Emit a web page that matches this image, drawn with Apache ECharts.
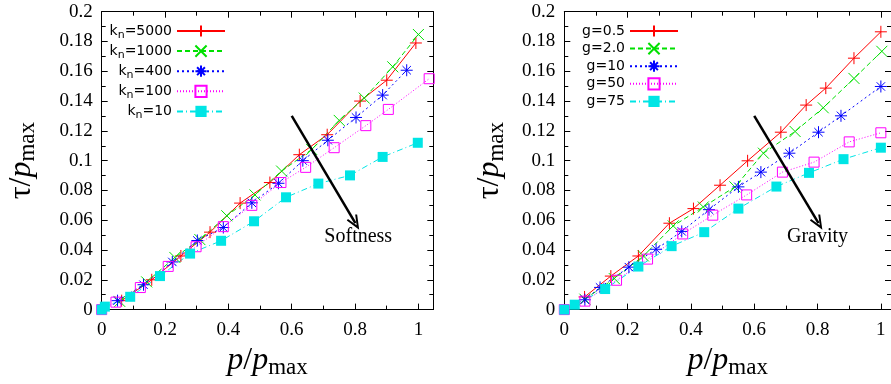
<!DOCTYPE html>
<html>
<head>
<meta charset="utf-8">
<script src="https://cdn.jsdelivr.net/npm/echarts@6/dist/echarts.min.js"></script>
<style>
html,body{margin:0;padding:0;background:#fff;}
#c{width:891px;height:384px;}
</style>
</head>
<body>
<div id="c"></div>
<script>
// ---------- data ----------
const softNames = ['kn=5000', 'kn=1000', 'kn=400', 'kn=100', 'kn=10'];
const kn5000 = [[0.063,0.006],[0.158,0.020],[0.25,0.036],[0.342,0.052],[0.437,0.0715],[0.531,0.0853],[0.624,0.104],[0.712,0.1174],[0.816,0.140],[0.90,0.154],[0.992,0.179]];
const kn1000 = [[0.057,0.0055],[0.142,0.0186],[0.231,0.035],[0.31,0.047],[0.395,0.063],[0.484,0.077],[0.568,0.093],[0.663,0.1075],[0.75,0.127],[0.829,0.142],[0.919,0.163],[1.0,0.1847]];
const kn400 = [[0.05,0.006],[0.132,0.0167],[0.223,0.032],[0.302,0.0464],[0.384,0.0551],[0.474,0.0717],[0.558,0.0848],[0.635,0.10],[0.714,0.1137],[0.803,0.129],[0.887,0.144],[0.963,0.1607]];
const kn100 = [[0,0],[0.045,0.005],[0.122,0.0148],[0.21,0.029],[0.298,0.0422],[0.384,0.0557],[0.474,0.07],[0.566,0.0853],[0.644,0.0955],[0.734,0.1087],[0.834,0.1235],[0.905,0.1344],[1.034,0.155]];
const kn10 = [[0,0],[0.01,0.002],[0.09,0.0086],[0.184,0.0225],[0.279,0.0376],[0.377,0.0462],[0.481,0.0593],[0.582,0.0754],[0.684,0.0846],[0.784,0.0901],[0.887,0.1025],[0.998,0.112]];

const gravNames = ['g=0.5', 'g=2.0', 'g=10', 'g=50', 'g=75'];
const g05 = [[0.064,0.0085],[0.147,0.0225],[0.234,0.036],[0.332,0.058],[0.408,0.0678],[0.492,0.0835],[0.579,0.0999],[0.684,0.1191],[0.764,0.1373],[0.826,0.1487],[0.915,0.1688],[1.0,0.1865]];
const g2 = [[0.065,0.007],[0.158,0.0208],[0.25,0.036],[0.344,0.0562],[0.439,0.0689],[0.539,0.0824],[0.629,0.105],[0.729,0.1196],[0.818,0.1355],[0.915,0.1552],[1.003,0.1734]];
const g10 = [[0.065,0.0066],[0.113,0.0149],[0.204,0.0285],[0.29,0.0405],[0.371,0.0525],[0.457,0.0671],[0.55,0.0824],[0.621,0.0923],[0.711,0.105],[0.803,0.1191],[0.874,0.1301],[1.0,0.1498]];
const g50 = [[0,0],[0.065,0.0057],[0.165,0.0197],[0.263,0.0339],[0.374,0.0508],[0.469,0.0634],[0.576,0.077],[0.689,0.0923],[0.789,0.099],[0.9,0.1126],[1.0,0.1187]];
const g75 = [[0,0],[0.033,0.0033],[0.129,0.0138],[0.234,0.0289],[0.339,0.0426],[0.442,0.052],[0.55,0.0678],[0.67,0.0826],[0.773,0.0918],[0.882,0.101],[1.0,0.1087]];

// axis ranges / ticks
const xMin = 0, xMaxLeft = 1.047, xMaxRight = 1.032, xInterval = 0.2;
const yMin = 0, yMax = 0.2, yInterval = 0.02;

// annotations (data coordinates)
const arrowLeft = [[0.6, 0.130], [0.801, 0.058]];
const arrowRight = [[0.6, 0.130], [0.803, 0.058]];
const textLeft = {text: 'Softness', at: [0.81, 0.049]};
const textRight = {text: 'Gravity', at: [0.80, 0.049]};

// ---------- styles ----------
const colors = ['#ff0000', '#00e000', '#0000ff', '#ff00ff', '#00e5e5'];
const dashes = ['solid', [5, 3], [2, 3], [1, 2], [6, 3, 1, 3]];
const plusP = 'path://M0 6L12 6M6 0L6 12';
const crossP = 'path://M0 0L12 12M12 0L0 12';
const starP = 'path://M0 6L12 6M6 0L6 12M1.8 1.8L10.2 10.2M10.2 1.8L1.8 10.2';
const arrowHead = 'path://M0 14L6 0L12 14L10.2 14.8L6 5L1.8 14.8Z';

function mkSeries(name, data, i, gi) {
  const c = colors[i];
  const s = {
    name: name, type: 'line', data: data,
    xAxisIndex: gi * 2, yAxisIndex: gi * 2,
    lineStyle: {color: c, width: 1, type: dashes[i]},
    showAllSymbol: true, animation: false, silent: true,
    emphasis: {disabled: true}
  };
  if (i === 0) { s.symbol = plusP; s.symbolSize = 12; s.itemStyle = {color: c, borderColor: c, borderWidth: 1}; }
  if (i === 1) { s.symbol = crossP; s.symbolSize = 11; s.itemStyle = {color: c, borderColor: c, borderWidth: 1}; }
  if (i === 2) { s.symbol = starP; s.symbolSize = 12; s.itemStyle = {color: c, borderColor: c, borderWidth: 1}; }
  if (i === 3) { s.symbol = 'rect'; s.symbolSize = 10; s.itemStyle = {color: 'rgba(0,0,0,0)', borderColor: c, borderWidth: 1}; }
  if (i === 4) { s.symbol = 'rect'; s.symbolSize = 10; s.itemStyle = {color: c, borderWidth: 0}; }
  return s;
}

function annotate(s, arrow, txt) {
  s.markLine = {
    silent: true, animation: false, symbol: ['none', arrowHead], symbolSize: [12, 15],
    lineStyle: {color: '#000', width: 2.5, type: 'solid'},
    label: {show: false}, emphasis: {disabled: true},
    data: [[{coord: arrow[0]}, {coord: arrow[1]}]]
  };
  s.markPoint = {
    silent: true, animation: false, symbol: 'circle', symbolSize: 1,
    itemStyle: {color: 'rgba(0,0,0,0)'},
    label: {show: true, position: 'inside', formatter: txt.text, color: '#000',
            fontFamily: 'Liberation Serif', fontSize: 20},
    data: [{coord: txt.at}]
  };
  return s;
}

const leftData = [kn5000, kn1000, kn400, kn100, kn10];
const rightData = [g05, g2, g10, g50, g75];
const series = [];
leftData.forEach((d, i) => series.push(mkSeries(softNames[i], d, i, 0)));
rightData.forEach((d, i) => series.push(mkSeries(gravNames[i], d, i, 1)));
annotate(series[0], arrowLeft, textLeft);
annotate(series[5], arrowRight, textRight);

const tickFont = {fontFamily: 'Liberation Serif', fontSize: 19, color: '#000'};
const nameStyle = {
  fontFamily: 'Liberation Serif', fontSize: 32, color: '#000',
  rich: {
    i: {fontFamily: 'Liberation Serif', fontStyle: 'italic', fontSize: 32, color: '#000'},
    t: {fontFamily: 'Liberation Serif', fontSize: 32, color: '#000'},
    s: {fontFamily: 'Liberation Serif', fontSize: 23, color: '#000', padding: [14, 0, 0, 0]}
  }
};

function xAx(grid, max, primary) {
  return {
    type: 'value', gridIndex: grid, min: xMin, max: max, interval: xInterval,
    position: primary ? 'bottom' : 'top',
    axisLine: {show: true, onZero: false, lineStyle: {color: '#000', width: 1}},
    axisTick: {show: true, inside: true, length: 6, lineStyle: {color: '#000'}},
    minorTick: {show: true, splitNumber: 2, length: 4, lineStyle: {color: '#000'}},
    splitLine: {show: false},
    axisLabel: {show: primary, margin: 11, showMaxLabel: false, ...tickFont},
    name: primary ? '{i|p}{t|/}{i|p}{s|max}' : '',
    nameLocation: 'middle', nameGap: 31, nameTextStyle: nameStyle
  };
}
function yAx(grid, primary, gap) {
  return {
    type: 'value', gridIndex: grid, min: yMin, max: yMax, interval: yInterval,
    position: primary ? 'left' : 'right',
    axisLine: {show: true, onZero: false, lineStyle: {color: '#000', width: 1}},
    axisTick: {show: true, inside: true, length: 6, lineStyle: {color: '#000'}},
    minorTick: {show: true, splitNumber: 2, length: 4, lineStyle: {color: '#000'}},
    splitLine: {show: false},
    axisLabel: {show: primary, margin: 9, ...tickFont},
    name: primary ? '{t|τ/}{i|p}{s|max}' : '',
    nameLocation: 'middle', nameRotate: 90, nameGap: gap, nameTextStyle: nameStyle
  };
}

const legendText = {
  fontFamily: 'DejaVu Sans', fontSize: 14, color: '#000',
  rich: {sub: {fontFamily: 'DejaVu Sans', fontSize: 11, color: '#000', padding: [8, 0, 0, 0]}}
};

const option = {
  backgroundColor: '#fff',
  animation: false,
  grid: [
    {left: 101.7, top: 11.7, width: 331.6, height: 305},
    {left: 564.3, top: 11.7, width: 326.7, height: 305}
  ],
  xAxis: [xAx(0, xMaxLeft, true), xAx(0, xMaxLeft, false), xAx(1, xMaxRight, true), xAx(1, xMaxRight, false)],
  yAxis: [yAx(0, true, 62), yAx(0, false, 0), yAx(1, true, 56), yAx(1, false, 0)],
  legend: [
    {
      data: softNames, orient: 'vertical', align: 'right', right: 660, top: 19,
      itemWidth: 48, itemHeight: 14, itemGap: 3.6, selectedMode: false,
      formatter: n => n.replace('kn', 'k{sub|n}'), textStyle: legendText
    },
    {
      data: gravNames, orient: 'vertical', align: 'right', right: 207, top: 19,
      itemWidth: 48, itemHeight: 14, itemGap: 3.6, selectedMode: false,
      textStyle: legendText
    }
  ],
  series: series
};

const chart = echarts.init(document.getElementById('c'), null, {renderer: 'canvas'});
chart.setOption(option);
</script>
</body>
</html>
